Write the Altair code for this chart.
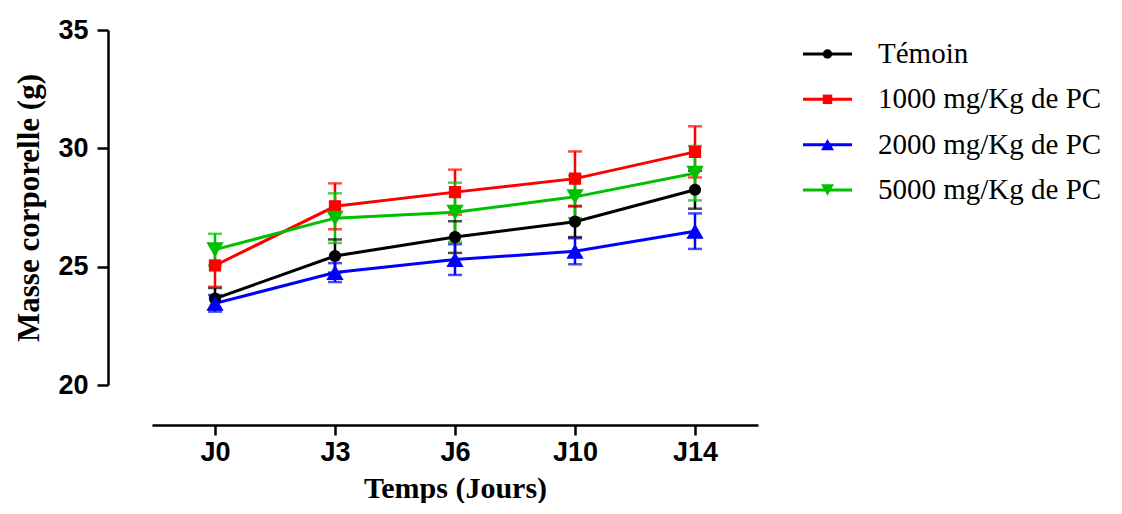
import altair as alt
import pandas as pd

days = ["J0", "J3", "J6", "J10", "J14"]
series = ["Témoin", "1000 mg/Kg de PC", "2000 mg/Kg de PC", "5000 mg/Kg de PC"]

temoin_mean = [23.65, 25.45, 26.25, 26.9, 28.25]
temoin_sd = [0.45, 0.7, 0.67, 0.65, 0.8]
d1000_mean = [25.05, 27.55, 28.15, 28.72, 29.85]
d1000_sd = [0.9, 0.97, 0.95, 1.15, 1.08]
d2000_mean = [23.45, 24.75, 25.3, 25.65, 26.5]
d2000_sd = [0.35, 0.4, 0.65, 0.55, 0.75]
d5000_mean = [25.72, 27.05, 27.3, 27.95, 28.95]
d5000_sd = [0.67, 1.05, 1.25, 0.9, 1.15]

y_ticks = [20, 25, 30, 35]
colors = ["#000000", "#FF0000", "#0000FF", "#00C000"]
shapes = ["circle", "square", "triangle-up", "triangle-down"]
triangle_series = [series[2], series[3]]

means = [temoin_mean, d1000_mean, d2000_mean, d5000_mean]
sds = [temoin_sd, d1000_sd, d2000_sd, d5000_sd]

rows = []
for s, m_list, sd_list in zip(series, means, sds):
    for d, m, sd in zip(days, m_list, sd_list):
        rows.append({"series": s, "day": d, "mean": m, "lo": m - sd, "hi": m + sd})
df = pd.DataFrame(rows)
df_leg = pd.DataFrame({"series": series})

color = alt.Color("series:N", sort=series,
                  scale=alt.Scale(domain=series, range=colors), legend=None)
shape = alt.Shape("series:N", sort=series,
                  scale=alt.Scale(domain=series, range=shapes), legend=None)
is_triangle = alt.FieldOneOfPredicate(field="series", oneOf=triangle_series)

x = alt.X("day:N", sort=days,
          scale=alt.Scale(type="point", padding=0.525),
          axis=alt.Axis(title="Temps (Jours)", labelAngle=0, offset=40,
                        domainColor="black", domainWidth=2.5,
                        tickColor="black", tickWidth=2.5, tickSize=10,
                        labelFont="Liberation Sans", labelFontWeight="bold",
                        labelFontSize=27, labelColor="black", labelPadding=4,
                        titleFont="Liberation Serif", titleFontWeight="bold",
                        titleFontSize=30, titleColor="black", titlePadding=8,
                        grid=False))

y_scale = alt.Scale(domain=[20, 35], nice=False, zero=False)
y_axis = alt.Axis(title="Masse corporelle (g)", values=y_ticks, offset=44,
                  domainColor="black", domainWidth=2.5,
                  tickColor="black", tickWidth=2.5, tickSize=11,
                  labelFont="Liberation Sans", labelFontWeight="bold",
                  labelFontSize=27, labelColor="black", labelPadding=9,
                  titleFont="Liberation Serif", titleFontWeight="bold",
                  titleFontSize=31, titleColor="black", titlePadding=12,
                  grid=False)

base = alt.Chart(df)

err = base.mark_rule(strokeWidth=2.5).encode(
    x=x, y=alt.Y("lo:Q", scale=y_scale, axis=y_axis), y2="hi:Q", color=color)
cap_hi = base.mark_tick(size=14, thickness=2.5).encode(
    x=x, y=alt.Y("hi:Q", scale=y_scale), color=color)
cap_lo = base.mark_tick(size=14, thickness=2.5).encode(
    x=x, y=alt.Y("lo:Q", scale=y_scale), color=color)
lines = base.mark_line(strokeWidth=3).encode(
    x=x, y=alt.Y("mean:Q", scale=y_scale), color=color)
points = base.mark_point(filled=True, opacity=1).encode(
    x=x, y=alt.Y("mean:Q", scale=y_scale), color=color, shape=shape,
    size=alt.condition(is_triangle, alt.value(300), alt.value(150)))

main = alt.layer(err, cap_hi, cap_lo, lines, points)

leg_y = alt.Y("series:N", sort=series,
              scale=alt.Scale(type="point", range=[24, 160], padding=0),
              axis=None)
leg_base = alt.Chart(df_leg)
leg_rule = leg_base.mark_rule(strokeWidth=3).encode(
    x=alt.value(651), x2=alt.value(700), y=leg_y, color=color)
leg_pt = leg_base.mark_point(filled=True, opacity=1).encode(
    x=alt.value(675.5), y=leg_y, color=color, shape=shape,
    size=alt.condition(is_triangle, alt.value(170), alt.value(90)))
leg_txt = leg_base.mark_text(align="left", baseline="middle",
                             font="Liberation Serif", fontSize=29,
                             color="black").encode(
    x=alt.value(726), y=leg_y, text="series:N")
legend = alt.layer(leg_rule, leg_pt, leg_txt)

chart = alt.layer(main, legend).resolve_scale(y="independent").properties(
    width=606, height=355,
    autosize=alt.AutoSizeParams(type="none"),
    padding={"left": 144, "top": 22, "right": 352, "bottom": 118},
    background="white",
).configure_view(stroke=None)

chart.save("out.html", embed_options={"renderer": "svg", "actions": False})
